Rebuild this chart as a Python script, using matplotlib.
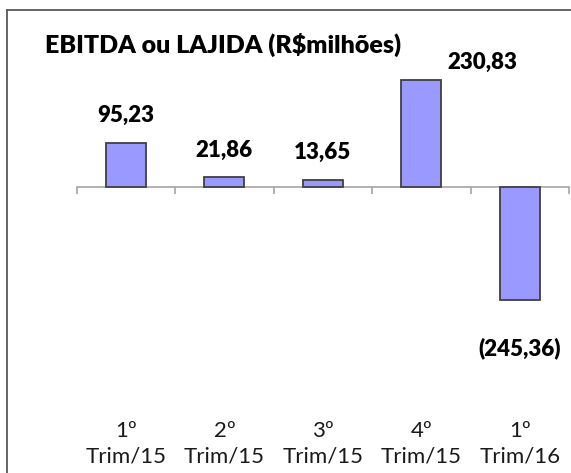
import matplotlib
matplotlib.use("Agg")
import matplotlib.pyplot as plt
import matplotlib.transforms as mtransforms
from matplotlib.lines import Line2D

plt.rcParams['font.family'] = ['Lato', 'DejaVu Sans']

# dados
trimestres = ["1º\nTrim/15", "2º\nTrim/15", "3º\nTrim/15", "4º\nTrim/15", "1º\nTrim/16"]
ebitda = [95.23, 21.86, 13.65, 230.83, -245.36]
rotulos = ["95,23", "21,86", "13,65", "230,83", "(245,36)"]
titulo = "EBITDA ou LAJIDA (R$milhões)"

fig = plt.figure(figsize=(5.71, 4.73), dpi=100)
W, H = 571.0, 473.0

# moldura (só esquerda e topo aparecem)
fig.add_artist(Line2D([7 / W, 7 / W], [0, 1 - 10 / H], color='#595959', lw=1.3,
                      transform=fig.transFigure))
fig.add_artist(Line2D([7 / W, 1], [1 - 10 / H, 1 - 10 / H], color='#595959', lw=1.3,
                      transform=fig.transFigure))

ax = fig.add_axes([76.7 / W, 1 - 430 / H, (569 - 76.7) / W, 370 / H])
ax.set_xlim(-0.5, 4.5)
esc = 0.4635
ax.set_ylim((186.7 - 430) / esc, (186.7 - 60) / esc)

x = range(len(ebitda))
bars = ax.bar(x, ebitda, width=0.406, color='#9999FF', edgecolor='#404040', linewidth=1.3, zorder=3)

for s in ['top', 'right', 'left']:
    ax.spines[s].set_visible(False)
ax.spines['bottom'].set_position(('data', 0))
ax.spines['bottom'].set_color('#a6a6a6')
ax.spines['bottom'].set_linewidth(1.2)
ax.set_yticks([])
ax.set_xticks([i - 0.5 for i in range(len(ebitda) + 1)])
ax.set_xticklabels([])
ax.tick_params(axis='x', direction='out', length=5, width=1.2, color='#a6a6a6')

# rotulos de dados
desloc = [(0, 27), (0, 26), (0, 28), (61, 17), (0, -47.5)]
for b, v, r, (dx, dy) in zip(bars, ebitda, rotulos, desloc):
    cx = b.get_x() + b.get_width() / 2
    ax.annotate(r, (cx, v), xytext=(dx, dy), textcoords='offset pixels',
                ha='center', va='center', fontsize=16, fontweight='heavy',
                color='black')

# categorias na parte de baixo
tr = mtransforms.blended_transform_factory(ax.transData, fig.transFigure)
for i, t in enumerate(trimestres):
    ax.text(i, 1 - 444 / H, t, transform=tr, ha='center', va='center',
            fontsize=16, linespacing=1.35, color='#1a1a1a')

fig.text(45 / W, 1 - 45 / H, titulo, ha='left', va='center',
         fontsize=18, fontweight='heavy', color='black')

fig.savefig("out.png", dpi=100)
